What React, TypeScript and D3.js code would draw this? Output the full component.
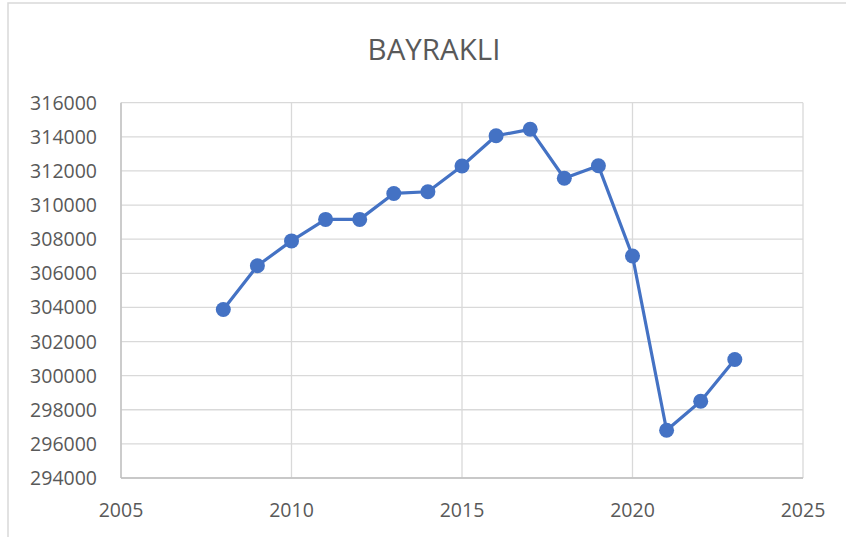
import React from "react";
import * as d3 from "d3";

const title = "BAYRAKLI";
const years = [2008, 2009, 2010, 2011, 2012, 2013, 2014, 2015, 2016, 2017, 2018, 2019, 2020, 2021, 2022, 2023];
const population = [303880, 306440, 307900, 309160, 309160, 310680, 310780, 312290, 314060, 314440, 311570, 312300, 307010, 296800, 298500, 300950];
const xTicks = [2005, 2010, 2015, 2020, 2025];
const yTicks = [294000, 296000, 298000, 300000, 302000, 304000, 306000, 308000, 310000, 312000, 314000, 316000];

const W = 846;
const H = 537;
const plot = { left: 121, right: 803, top: 102.7, bottom: 478 };
const FONT = "'Open Sans', 'Noto Sans', sans-serif";

export default function App() {
  const x = d3.scaleLinear().domain([2005, 2025]).range([plot.left, plot.right]);
  const y = d3.scaleLinear().domain([294000, 316000]).range([plot.bottom, plot.top]);
  const pts = years.map((yr, i) => [yr, population[i]] as [number, number]);
  const line = d3
    .line<[number, number]>()
    .x((d) => x(d[0]))
    .y((d) => y(d[1]));

  return (
    <svg
      width={W}
      height={H}
      style={{ position: "absolute", left: 0, top: 0, background: "#fff" }}
    >
      <rect x={8} y={3} width={W + 10} height={H + 10} fill="#fff" stroke="#D9D9D9" strokeWidth={1.5} />
      <text
        x={434}
        y={59.5}
        textAnchor="middle"
        fontFamily={FONT}
        fontSize={29.5}
        fill="#595959"
      >
        {title}
      </text>
      {yTicks.map((t) => (
        <g key={"y" + t}>
          <line x1={plot.left} x2={plot.right} y1={y(t)} y2={y(t)} stroke="#D9D9D9" strokeWidth={1.3} />
          <text
            x={97}
            y={y(t)}
            dy="0.36em"
            textAnchor="end"
            fontFamily={FONT}
            fontSize={19.5}
            fill="#595959"
          >
            {t}
          </text>
        </g>
      ))}
      {xTicks.map((t) => (
        <g key={"x" + t}>
          <line x1={x(t)} x2={x(t)} y1={plot.top} y2={plot.bottom} stroke="#D9D9D9" strokeWidth={1.3} />
          <text
            x={x(t)}
            y={517}
            textAnchor="middle"
            fontFamily={FONT}
            fontSize={19.5}
            fill="#595959"
          >
            {t}
          </text>
        </g>
      ))}
      <line x1={plot.left} x2={plot.left} y1={plot.top} y2={plot.bottom} stroke="#BFBFBF" strokeWidth={1.3} />
      <line x1={plot.left} x2={plot.right} y1={plot.bottom} y2={plot.bottom} stroke="#BFBFBF" strokeWidth={1.3} />
      <path d={line(pts) || ""} fill="none" stroke="#4472C4" strokeWidth={3.2} strokeLinejoin="round" />
      {pts.map((d, i) => (
        <circle key={i} cx={x(d[0])} cy={y(d[1])} r={7.5} fill="#4472C4" />
      ))}
    </svg>
  );
}
